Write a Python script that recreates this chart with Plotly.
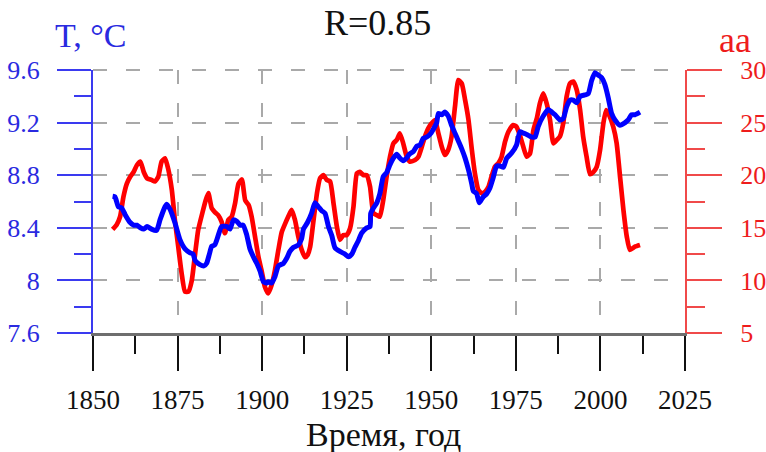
import plotly.graph_objects as go

# Mean annual temperature T (°C), smoothed
years_t = [1855.8, 1856.5, 1857.5, 1858.5, 1859.5, 1861, 1862, 1863, 1864, 1865,
           1866, 1867.3, 1868.8, 1869.8, 1871.3, 1871.8, 1872.8, 1874.2, 1875.7, 1877.2,
           1878.7, 1879.6, 1880.2, 1881.6, 1882.8, 1883.6, 1884.4, 1885.1, 1886, 1887,
           1888, 1889.5, 1890.5, 1891.5, 1892.5, 1893.5, 1894.4, 1895.4, 1896.4, 1897.4,
           1898.4, 1899.4, 1900.4, 1901.4, 1901.8, 1902.8, 1903.8, 1904.8, 1906.3, 1907.3,
           1908.2, 1909.2, 1910.7, 1911.7, 1912.2, 1913.4, 1914.6, 1915.6, 1916.6, 1917.6,
           1918.6, 1919.6, 1920.6, 1921.5, 1923, 1924.5, 1925.5, 1926.5, 1927.4, 1928.4,
           1929.4, 1930.9, 1931.9, 1932.1, 1932.9, 1933.9, 1934.8, 1935.8, 1936.8, 1937.8,
           1938.8, 1939.8, 1940.7, 1941.7, 1942.7, 1943.5, 1944.7, 1945.7, 1946.7, 1947.6,
           1948.6, 1949.6, 1950.6, 1951.6, 1952.1, 1953.1, 1954, 1955, 1956, 1957,
           1958, 1959, 1960, 1961, 1962, 1962.4, 1963.4, 1964.2, 1965.2, 1966.4,
           1967.3, 1968.3, 1969.3, 1970.3, 1971.3, 1972.3, 1973.8, 1975.2, 1976.2, 1977.2,
           1978.2, 1979.7, 1980.7, 1981.6, 1983.1, 1984.6, 1985.6, 1986.6, 1988, 1989,
           1990, 1991, 1992, 1993, 1994, 1995.4, 1996.4, 1997.4, 1998.4, 1999.4,
           2000.4, 2001.3, 2002.3, 2003.3, 2004.3, 2005.8, 2007.3, 2008.2, 2009.2, 2010.2,
           2011.7]
temp = [8.64, 8.635, 8.56, 8.55, 8.50, 8.44, 8.42, 8.42, 8.40, 8.39,
        8.41, 8.39, 8.38, 8.46, 8.56, 8.58, 8.54, 8.44, 8.31, 8.24,
        8.21, 8.20, 8.15, 8.12, 8.11, 8.13, 8.20, 8.26, 8.27, 8.34,
        8.41, 8.41, 8.39, 8.46, 8.45, 8.42, 8.42, 8.35, 8.24, 8.18,
        8.13, 8.07, 7.99, 7.98, 7.99, 7.98, 8.03, 8.11, 8.13, 8.17,
        8.22, 8.25, 8.27, 8.32, 8.39, 8.44, 8.51, 8.59, 8.56, 8.53,
        8.51, 8.41, 8.34, 8.25, 8.22, 8.20, 8.18, 8.20, 8.25, 8.30,
        8.36, 8.40, 8.41, 8.51, 8.55, 8.59, 8.66, 8.79, 8.82, 8.88,
        8.93, 8.96, 8.93, 8.91, 8.93, 8.96, 8.98, 9.02, 9.03, 9.08,
        9.09, 9.11, 9.15, 9.20, 9.27, 9.26, 9.28, 9.25, 9.18, 9.12,
        9.06, 9.00, 8.93, 8.84, 8.73, 8.68, 8.66, 8.59, 8.63, 8.66,
        8.70, 8.78, 8.87, 8.87, 8.86, 8.93, 8.97, 9.03, 9.13, 9.12,
        9.11, 9.09, 9.09, 9.17, 9.25, 9.30, 9.28, 9.26, 9.22, 9.23,
        9.32, 9.37, 9.37, 9.35, 9.40, 9.41, 9.42, 9.52, 9.58, 9.56,
        9.54, 9.49, 9.39, 9.27, 9.22, 9.18, 9.20, 9.22, 9.26, 9.26,
        9.28]

# Geomagnetic aa index, smoothed
years_aa = [1855.8, 1857, 1858, 1859, 1860, 1861, 1862, 1863, 1864, 1865,
            1866, 1867.3, 1868.3, 1869.3, 1870.3, 1871.3, 1872.3, 1873.3, 1874.2, 1875.2,
            1876.2, 1877.2, 1878.2, 1879.2, 1880.2, 1881.1, 1882.4, 1883.3, 1884.1, 1885.1,
            1886, 1887, 1888, 1889, 1890, 1891, 1892, 1893, 1894, 1895,
            1896, 1896.9, 1897.9, 1898.9, 1899.9, 1900.8, 1901.8, 1902.8, 1903.8, 1904.8,
            1905.8, 1906.8, 1907.7, 1908.7, 1909.7, 1910.7, 1911.7, 1912.7, 1913.4, 1914.2,
            1915.2, 1916.2, 1917.1, 1918.1, 1919.1, 1920.1, 1921.1, 1922.1, 1923, 1924,
            1925, 1926, 1927, 1928, 1928.9, 1929.9, 1930.9, 1931.9, 1932.9, 1933.9,
            1934.8, 1935.8, 1936.8, 1937.8, 1938.8, 1939.8, 1940.7, 1941.7, 1942.7, 1943.7,
            1945.2, 1946.2, 1947.2, 1948.1, 1949.1, 1950.1, 1951.1, 1952.1, 1953.1, 1954,
            1955, 1956, 1957, 1958, 1959, 1960, 1961, 1962, 1962.9, 1963.9,
            1964.9, 1965.9, 1966.9, 1967.8, 1968.8, 1969.8, 1970.8, 1971.8, 1972.8, 1974.2,
            1975.2, 1976.2, 1977.2, 1978.2, 1979.2, 1980.2, 1981.2, 1982.1, 1983.1, 1984.1,
            1985.1, 1986.1, 1987.1, 1988, 1989, 1990, 1991, 1992, 1993, 1994,
            1994.9, 1995.9, 1996.9, 1997.9, 1998.9, 1999.9, 2000.9, 2001.7, 2002.6, 2003.8,
            2004.8, 2005.8, 2006.8, 2007.8, 2008.7, 2010.2, 2011.7]
aa = [14.86, 15.3, 16.05, 17.95, 19.2, 19.85, 20.3, 20.97, 21.3, 20.3,
      19.7, 19.55, 19.4, 19.85, 21.3, 21.6, 20.5, 18.6, 15.75, 13.2,
      10.67, 8.93, 8.93, 10.0, 12.57, 14.8, 16.5, 17.6, 18.3, 16.85,
      16.5, 16.2, 15.58, 14.48, 15.75, 16.05, 17.33, 19.2, 19.6, 17.6,
      17.17, 16.05, 14.15, 12.25, 10.83, 9.4, 8.77, 9.56, 11.0, 12.9,
      14.6, 15.4, 16.05, 16.7, 15.75, 14.15, 12.9, 12.2, 12.4, 13.2,
      15.74, 18.28, 19.7, 20.0, 19.55, 19.4, 17.33, 15.1, 13.84, 14.3,
      14.3, 14.95, 17.0, 20.18, 20.33, 20.0, 20.0, 18.9, 16.38, 16.2,
      16.05, 17.64, 19.86, 21.76, 23.03, 23.35, 23.98, 23.03, 21.8, 21.28,
      21.44, 21.76, 22.7, 23.66, 24.46, 24.93, 25.25, 23.98, 22.7, 21.92,
      22.4, 23.66, 26.5, 29.05, 28.73, 27.15, 25.25, 22.4, 20.18, 18.6,
      18.28, 18.43, 18.9, 19.86, 20.8, 21.13, 21.76, 23.18, 24.13, 24.77,
      24.6, 23.8, 22.7, 21.76, 22.08, 24.3, 25.4, 26.83, 27.78, 26.83,
      25.25, 23.03, 23.35, 23.66, 24.93, 27.46, 28.73, 28.9, 28.1, 26.2,
      23.66, 21.76, 20.1, 20.3, 20.8, 22.4, 25.0, 26.2, 25.7, 24.6,
      23.03, 19.86, 16.7, 14.15, 12.9, 13.2, 13.36]

x_ticks = [1850, 1875, 1900, 1925, 1950, 1975, 2000, 2025]
t_ticks = [7.6, 8.0, 8.4, 8.8, 9.2, 9.6]
t_labels = ["7.6", "8", "8.4", "8.8", "9.2", "9.6"]
aa_ticks = [5, 10, 15, 20, 25, 30]

SERIF = "Times New Roman, Liberation Serif, DejaVu Serif, serif"
BLUE = "#0000ff"
RED = "#ff0000"
BLUE_AX = "#3a3af0"
RED_AX = "#f04a4a"
BLUE_TXT = "#2a2ae0"
RED_TXT = "#ee1c1c"
INK = "#111111"
GRID = "#a9a9a9"
DASH = "14px,19px"

fig = go.Figure()
# aa index on the right-hand axis
fig.add_trace(go.Scatter(x=years_aa, y=aa, mode="lines", yaxis="y",
                         line=dict(color=RED, width=4.7, shape="spline", smoothing=0.5),
                         hoverinfo="skip"))
# temperature on the left-hand axis (overlay, drawn on top)
fig.add_trace(go.Scatter(x=years_t, y=temp, mode="lines", yaxis="y2",
                         line=dict(color=BLUE, width=5, shape="spline", smoothing=0.5),
                         hoverinfo="skip"))

fig.update_layout(
    width=766, height=452, autosize=False,
    margin=dict(l=93, r=81, t=70, b=119, pad=0, autoexpand=False),
    plot_bgcolor="white", paper_bgcolor="white",
    showlegend=False,
    font=dict(family=SERIF, color=INK),
    xaxis=dict(
        range=[1850, 2025], tickvals=x_ticks, ticktext=[str(v) for v in x_ticks],
        ticks="outside", ticklen=35, tickwidth=2, tickcolor=INK,
        showline=True, linecolor="#6e6e6e", linewidth=2.5,
        showgrid=True, gridcolor=GRID, gridwidth=2, griddash=DASH,
        zeroline=False, ticklabelstandoff=6, automargin=False,
        tickfont=dict(family=SERIF, size=27, color=INK),
        minor=dict(tick0=1850, dtick=12.5, ticks="outside", ticklen=18,
                   tickwidth=2, tickcolor=INK, showgrid=False),
    ),
    yaxis=dict(
        side="right", range=[5, 30], tickvals=aa_ticks,
        ticks="outside", ticklen=35, tickwidth=2, tickcolor=RED_AX,
        showline=True, linecolor=RED_AX, linewidth=2,
        showgrid=True, gridcolor=GRID, gridwidth=2, griddash=DASH,
        zeroline=False, ticklabelstandoff=13, automargin=False,
        tickfont=dict(family=SERIF, size=26, color=RED_TXT),
        minor=dict(tick0=5, dtick=2.5, ticks="outside", ticklen=18,
                   tickwidth=2, tickcolor=RED_AX, showgrid=False),
    ),
    yaxis2=dict(
        overlaying="y", side="left", range=[7.6, 9.6],
        tickvals=t_ticks, ticktext=t_labels,
        ticks="outside", ticklen=34, tickwidth=2, tickcolor=BLUE_AX,
        showline=True, linecolor=BLUE_AX, linewidth=2,
        showgrid=False, zeroline=False, ticklabelstandoff=12, automargin=False,
        tickfont=dict(family=SERIF, size=26, color=BLUE_TXT),
        minor=dict(tick0=7.6, dtick=0.2, ticks="outside", ticklen=17,
                   tickwidth=2, tickcolor=BLUE_AX, showgrid=False),
    ),
    # dashed grid line along the top edge of the plotting area
    shapes=[
        dict(type="line", xref="paper", yref="paper", x0=0, x1=1, y0=1, y1=1,
             line=dict(color=GRID, width=2, dash=DASH), layer="below"),
    ],
    annotations=[
        dict(text="R=0.85", xref="paper", yref="paper", x=0.481, y=1.178,
             xanchor="center", yanchor="middle", showarrow=False,
             font=dict(family=SERIF, size=36, color=INK)),
        dict(text="T, °C", xref="paper", yref="paper", x=-0.003, y=1.13,
             xanchor="center", yanchor="middle", showarrow=False,
             font=dict(family=SERIF, size=34, color=BLUE_TXT)),
        dict(text="aa", xref="paper", yref="paper", x=1.085, y=1.115,
             xanchor="center", yanchor="middle", showarrow=False,
             font=dict(family=SERIF, size=36, color=RED_TXT)),
        dict(text="Время, год", xref="paper", yref="paper", x=0.49, y=-0.385,
             xanchor="center", yanchor="middle", showarrow=False,
             font=dict(family=SERIF, size=34, color=INK)),
    ],
)

fig.write_html("out.html")
